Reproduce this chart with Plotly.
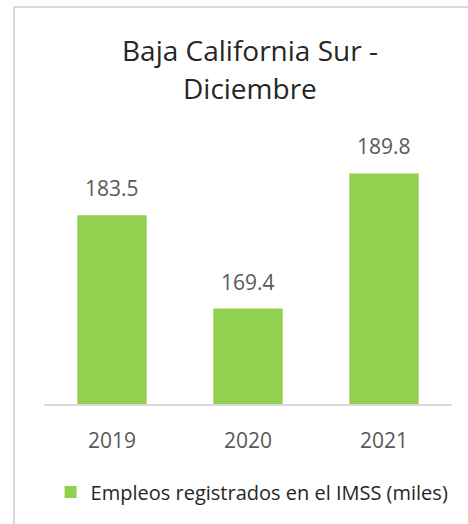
import plotly.graph_objects as go

# Registered IMSS jobs in Baja California Sur, December of each year (thousands)
years = ["2019", "2020", "2021"]
empleos = [183.5, 169.4, 189.8]
series_name = "Empleos registrados en el IMSS (miles)"
title_lines = ["Baja California Sur -", "Diciembre"]

bar_color = "#92D050"
label_gray = "#595959"
text_dark = "#262626"
font_family = "'Open Sans', 'Noto Sans', sans-serif"

fig = go.Figure()
fig.add_trace(go.Bar(
    x=years, y=empleos, name=series_name,
    marker=dict(color=bar_color, line=dict(width=0)),
    showlegend=True,
))

# Value labels above each bar (category index positions)
for i, v in enumerate(empleos):
    fig.add_annotation(
        x=i, y=v, text=f"{v:.1f}", showarrow=False,
        xref="x", yref="y", yanchor="bottom", yshift=11,
        font=dict(family=font_family, size=21, color=label_gray),
    )

# Two-line chart title
for txt, ypos in zip(title_lines, [1.336, 1.192]):
    fig.add_annotation(
        x=0.505, y=ypos, xref="paper", yref="paper", text=txt,
        showarrow=False, xanchor="center", yanchor="middle",
        font=dict(family=font_family, size=28, color=text_dark),
    )

# Chart-area frame
fig.add_shape(
    type="rect", xref="paper", yref="paper",
    x0=-0.0735, x1=1.3, y0=-1.0, y1=1.498,
    line=dict(color="#D9D9D9", width=2), fillcolor="rgba(0,0,0,0)",
    layer="below",
)

fig.update_layout(
    width=468, height=524,
    margin=dict(l=44, r=16, t=139, b=120),
    paper_bgcolor="white", plot_bgcolor="white",
    bargap=0.49,
    font=dict(family=font_family, color=text_dark),
    legend=dict(
        orientation="h", x=0.51, xanchor="center", y=-0.332, yanchor="middle",
        font=dict(family=font_family, size=20, color=text_dark),
        itemwidth=30, bgcolor="rgba(0,0,0,0)",
    ),
    xaxis=dict(
        type="category", range=[-0.5, 2.5],
        showline=True, linecolor="#D9D9D9", linewidth=2,
        ticks="", showgrid=False, ticklabelstandoff=17,
        tickfont=dict(family=font_family, size=21, color=label_gray),
    ),
    yaxis=dict(
        range=[155, 195], visible=False, showgrid=False, zeroline=False,
    ),
)

fig.write_html("out.html")
